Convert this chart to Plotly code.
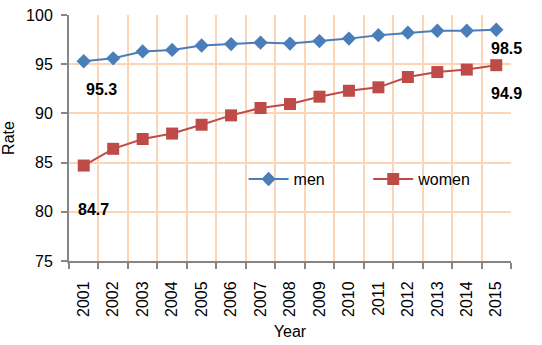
import plotly.graph_objects as go

years = list(range(2001, 2016))
tick_labels = [str(y) for y in years]
men = [95.3, 95.6, 96.3, 96.45, 96.9, 97.05, 97.2, 97.1, 97.35, 97.6, 97.95, 98.2, 98.4, 98.4, 98.5]
women = [84.7, 86.4, 87.4, 87.95, 88.85, 89.8, 90.55, 90.95, 91.7, 92.3, 92.65, 93.7, 94.2, 94.45, 94.9]

blue = "#4A7EBB"
red = "#BE4B48"
grid = "#FBD5B5"
axis = "#868686"
font = "Liberation Sans, Arial, sans-serif"

fig = go.Figure()
fig.add_trace(go.Scatter(x=years, y=men, name="men", mode="lines+markers",
                         line=dict(color=blue, width=2),
                         marker=dict(symbol="diamond", size=11, color=blue),
                         legend="legend"))
fig.add_trace(go.Scatter(x=years, y=women, name="women", mode="lines+markers",
                         line=dict(color=red, width=2),
                         marker=dict(symbol="square", size=12, color=red),
                         legend="legend2"))

labels = [
    (years[0], men[0], 18, -28),
    (years[-1], men[-1], 10, -19),
    (years[-1], women[-1], 10, -28),
    (years[0], women[0], 10, -44),
]
for lx, ly, dx, dy in labels:
    fig.add_annotation(x=lx, y=ly, text=f"<b>{ly:.1f}</b>", showarrow=False,
                       xshift=dx, yshift=dy, font=dict(family=font, size=16, color="black"))

boundaries = [y - 0.5 for y in years] + [years[-1] + 0.5]

leg_common = dict(orientation="h", yanchor="middle", y=0.333, xanchor="left",
                  bgcolor="rgba(0,0,0,0)", font=dict(size=16, family=font), itemwidth=40)

fig.update_layout(
    width=542, height=345,
    margin=dict(l=69, r=31, t=15, b=84),
    paper_bgcolor="white", plot_bgcolor="white",
    font=dict(family=font, size=16, color="black"),
    showlegend=True,
    legend=dict(x=0.395, **leg_common),
    legend2=dict(x=0.677, **leg_common),
    xaxis=dict(range=[years[0] - 0.5, years[-1] + 0.5], tickvals=years, ticktext=tick_labels,
               showgrid=False, showline=True, linecolor=axis, linewidth=2, ticks="",
               tickangle=-90, tickfont=dict(size=16), zeroline=False, automargin=False,
               ticklabelstandoff=12,
               minor=dict(tickvals=boundaries, showgrid=True, gridcolor=grid, gridwidth=2,
                          ticks="outside", ticklen=6, tickwidth=2, tickcolor=axis),
               title=dict(text="Year", font=dict(size=16), standoff=10)),
    yaxis=dict(range=[75, 100], dtick=5, showgrid=True, gridcolor=grid, gridwidth=2,
               showline=True, linecolor=axis, linewidth=2, ticks="outside", ticklen=6, tickwidth=2,
               tickcolor=axis, tickfont=dict(size=16), zeroline=False, automargin=False,
               ticklabelstandoff=5,
               title=dict(text="Rate", font=dict(size=16), standoff=12)),
)
fig.write_html("out.html")
